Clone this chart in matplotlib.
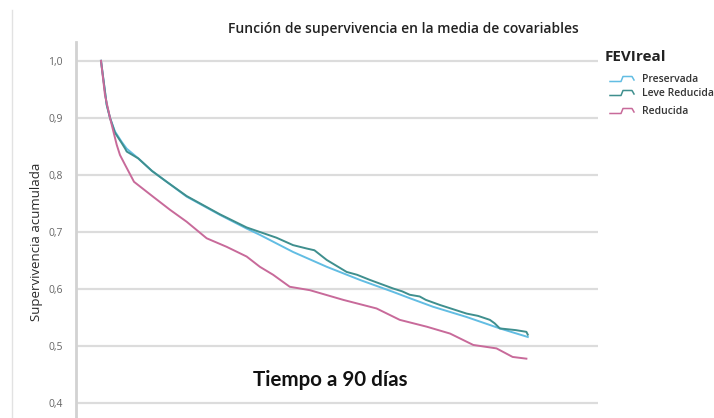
import matplotlib

matplotlib.use("Agg")
import matplotlib.pyplot as plt  # noqa: E402
from matplotlib.lines import Line2D  # noqa: E402

# Survival curves (time in days, cumulative survival)
t_pres = [0, 1.2, 1.9, 2.95, 4.36, 5.42, 7.86, 10.75, 13.85, 18.06, 25.08,
          30.71, 33.5, 40.5, 47.6, 54.6, 61.6, 65.1, 70.0, 77.1, 84.1, 90]
s_pres = [1.0, 0.923, 0.900, 0.876, 0.858, 0.846, 0.829, 0.807, 0.788, 0.762,
          0.730, 0.706, 0.695, 0.665, 0.639, 0.616, 0.595, 0.584, 0.569, 0.551,
          0.531, 0.516]

t_leve = [0, 1.2, 1.9, 2.95, 4.36, 5.1, 5.42, 7.86, 10.75, 13.85, 18.06, 25.08,
          30.71, 33.5, 37.0, 40.5, 43.4, 45.0, 47.6, 51.8, 54.0, 56.7, 61.6,
          63.5, 65.1, 67.2, 68.5, 71.5, 77.1, 79.5, 82.0, 83.0, 84.1, 87.5,
          89.7, 90]
s_leve = [1.0, 0.923, 0.900, 0.874, 0.856, 0.846, 0.841, 0.829, 0.807, 0.788,
          0.763, 0.731, 0.708, 0.700, 0.690, 0.677, 0.671, 0.668, 0.651, 0.630,
          0.625, 0.616, 0.601, 0.596, 0.590, 0.587, 0.581, 0.572, 0.557, 0.553,
          0.546, 0.540, 0.531, 0.528, 0.525, 0.520]

t_red = [0, 0.84, 1.9, 3.31, 4.0, 5.06, 6.96, 10.96, 14.54, 18.06, 22.28,
         26.5, 30.71, 33.5, 36.3, 39.8, 44.06, 51.1, 58.1, 63.0, 68.7, 73.6,
         78.5, 83.4, 86.8, 89.7]
s_red = [1.0, 0.940, 0.900, 0.853, 0.835, 0.818, 0.788, 0.762, 0.739, 0.718,
         0.689, 0.674, 0.657, 0.639, 0.625, 0.604, 0.598, 0.581, 0.566, 0.546,
         0.534, 0.522, 0.502, 0.496, 0.481, 0.478]

series_names = ["Preservada", "Leve Reducida", "Reducida"]
series_colors = ["#62bde3", "#3f8f8e", "#c86a9a"]
yticks = [0.4, 0.5, 0.6, 0.7, 0.8, 0.9, 1.0]
ytick_labels = ["0,4", "0,5", "0,6", "0,7", "0,8", "0,9", "1,0"]

W, H = 714, 418
fig = plt.figure(figsize=(W / 100, H / 100), dpi=100)
ax = fig.add_axes([76 / W, 0.0, 522 / W, 1 - 42 / H])

for t, s, name, col in zip([t_pres, t_leve, t_red], [s_pres, s_leve, s_red],
                           series_names, series_colors):
    ax.plot(t, s, color=col, lw=1.4, label=name, zorder=3)

ax.set_xlim(-5.27, 104.8)
ax.set_ylim(0.374, 1.033)
ax.set_yticks(yticks)
ax.set_yticklabels(ytick_labels, fontsize=7.5, color="#666666", family="Open Sans")
ax.set_xticks([])
ax.tick_params(axis="y", length=0, pad=9.5)
ax.grid(axis="y", color="#dcdcdc", lw=1.6, zorder=0)
for side in ["top", "right", "bottom"]:
    ax.spines[side].set_visible(False)
ax.spines["left"].set_color("#d2d2d2")
ax.spines["left"].set_linewidth(2.0)

fig.text(37 / W, 1 - 242 / H, "Supervivencia acumulada", rotation=90,
         ha="center", va="center", fontsize=9.5, color="#2a2a2a",
         family="Open Sans")

fig.text(403 / W, 1 - 29 / H, "Función de supervivencia en la media de covariables",
         ha="center", va="center", fontsize=10, fontweight="semibold",
         color="#222222", family="Open Sans")

fig.text(330 / W, 1 - 380 / H, "Tiempo a 90 días",
         ha="center", va="center", fontsize=14.8, fontweight="bold",
         color="#111111", family="Lato")

# legend drawn by hand to get the SPSS step glyphs
fig.text(605 / W, 1 - 57 / H, "FEVIreal", ha="left", va="center", fontsize=11,
         fontweight="bold", color="#222222", family="Open Sans")
for i, (name, col) in enumerate(zip(series_names, series_colors)):
    yc = [80, 94, 112][i]
    gx = [610, 621, 623, 632, 634]
    gy = [yc + 1.5, yc + 1.5, yc - 3.5, yc - 3.5, yc]
    fig.add_artist(Line2D([x / W for x in gx], [1 - y / H for y in gy],
                          color=col, lw=1.1, transform=fig.transFigure))
    fig.text(642 / W, 1 - yc / H, name, ha="left", va="center", fontsize=7.5,
             fontweight="semibold", color="#333333", family="Open Sans")

# faint frame line on the left edge of the screenshot
fig.add_artist(Line2D([12 / W, 12 / W], [0, 1 - 10 / H], color="#e2e2e2",
                      lw=1.0, transform=fig.transFigure))

fig.savefig("out.png", dpi=100, facecolor="white")
